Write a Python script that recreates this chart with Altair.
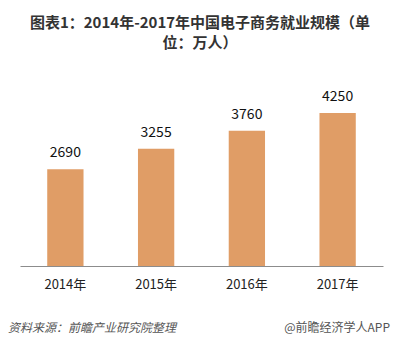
import altair as alt
import pandas as pd

years = ["2014年", "2015年", "2016年", "2017年"]
values = [2690, 3255, 3760, 4250]
title_line1 = "图表1：2014年-2017年中国电子商务就业规模（单"
title_line2 = "位：万人）"
source_left = "资料来源：前瞻产业研究院整理"
source_right = "@前瞻经济学人APP"

df = pd.DataFrame({"year": years, "value": values})
FONT = "Noto Sans CJK SC"

x_enc = alt.X("year:N", sort=years,
              scale=alt.Scale(paddingInner=0.6, paddingOuter=0.3),
              axis=alt.Axis(title=None, domainColor="#8c8c8c", domainWidth=1, ticks=False,
                            labelAngle=0, labelFont=FONT, labelFontSize=13, labelColor="#222222",
                            labelPadding=12, grid=False))
y_enc = alt.Y("value:Q", scale=alt.Scale(domain=[0, 5000]), axis=None)

bars = alt.Chart(df).mark_bar(color="#E09D66").encode(x=x_enc, y=y_enc)
labels = alt.Chart(df).mark_text(dy=-16, font=FONT, fontSize=14, color="#111111").encode(
    x=alt.X("year:N", sort=years), y="value:Q", text="value:Q")


def fixed_text(txt, x, y, align="center", **kw):
    return alt.Chart(pd.DataFrame({"t": [txt]})).mark_text(
        font=FONT, align=align, baseline="middle", **kw).encode(
        x=alt.value(x), y=alt.value(y), text="t:N")


t1 = fixed_text(title_line1, 180, -63, fontSize=15, fontWeight="bold", color="#333333")
t2 = fixed_text(title_line2, 180, -43, fontSize=15, fontWeight="bold", color="#333333")
foot_left = fixed_text(source_left, -12, 242, align="left", fontSize=12, fontStyle="italic", color="#555555")
foot_right = fixed_text(source_right, 370, 242, align="right", fontSize=12, color="#555555")

chart = alt.layer(bars, labels, t1, t2, foot_left, foot_right).properties(
    width=363, height=180,
    autosize=alt.AutoSizeParams(type="none"),
    padding={"left": 20, "top": 86, "right": 16, "bottom": 80},
    background="white",
).configure_view(stroke=None)

chart.save("out.html", embed_options={"renderer": "svg", "actions": False})
